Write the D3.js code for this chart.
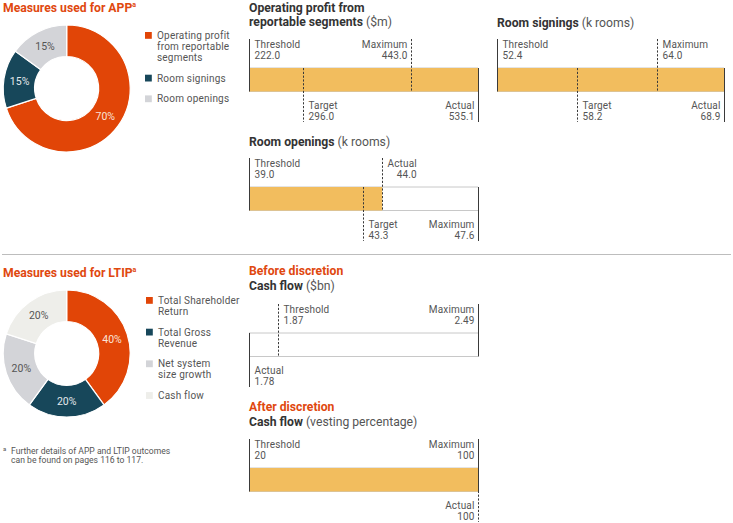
<!DOCTYPE html>
<html><head><meta charset="utf-8">
<script src="https://cdn.jsdelivr.net/npm/d3@7"></script>
<style>body{margin:0;background:#fff} svg{display:block;font-family:Roboto, "Noto Sans", sans-serif}</style>
</head><body><svg id="c" width="733" height="523"></svg>
<script>
// ---------- DATA ----------
const appCategories = ["Operating profit\nfrom reportable\nsegments", "Room signings", "Room openings"];
const appWeights = [70, 15, 15];
const ltipCategories = ["Total Shareholder\nReturn", "Total Gross\nRevenue", "Net system\nsize growth", "Cash flow"];
const ltipWeights = [40, 20, 20, 20];

const opProfitLabels = ["Threshold", "Target", "Maximum", "Actual"];
const opProfitValues = [222.0, 296.0, 443.0, 535.1];
const roomSigningsLabels = ["Threshold", "Target", "Maximum", "Actual"];
const roomSigningsValues = [52.4, 58.2, 64.0, 68.9];
const roomOpeningsLabels = ["Threshold", "Target", "Maximum", "Actual"];
const roomOpeningsValues = [39.0, 43.3, 47.6, 44.0];
const cashBeforeLabels = ["Threshold", "Maximum", "Actual"];
const cashBeforeValues = [1.87, 2.49, 1.78];
const cashAfterLabels = ["Threshold", "Maximum", "Actual"];
const cashAfterValues = [20, 100, 100];

// ---------- STYLE ----------
const ORANGE = "#E14507", TEAL = "#17475A", GREY = "#D3D4D8", LIGHT = "#EEEEEA";
const TITLE_OR = "#E0480F", DARK = "#333", MID = "#555", GOLD = "#F2BD5E", RULE = "#C8C8C8";
const svg = d3.select("#c");

// separator
svg.append("line").attr("x1", 2).attr("x2", 731).attr("y1", 254.5).attr("y2", 254.5)
  .attr("stroke", "#BDBDBD").attr("stroke-width", 1);

function sectionTitle(x, y, txt, sup) {
  const t = svg.append("text").attr("x", x).attr("y", y).attr("fill", TITLE_OR)
    .attr("font-weight", 700).attr("font-size", 12.2).text(txt);
  if (sup) t.append("tspan").attr("font-size", 7).attr("dy", -4.5).text(sup);
}
sectionTitle(3, 11.5, "Measures used for APP", "a");
sectionTitle(3, 276.5, "Measures used for LTIP", "a");

// ---------- DONUTS ----------
function donut(cx, cy, cats, vals, colors, labelColors) {
  const pie = d3.pie().sort(null).value(d => d)(vals);
  const arc = d3.arc().innerRadius(32).outerRadius(63.5);
  const labArc = d3.arc().innerRadius(47.7).outerRadius(47.7);
  const g = svg.append("g").attr("transform", `translate(${cx},${cy})`);
  g.selectAll("path").data(pie).join("path").attr("d", arc)
    .attr("fill", (d, i) => colors[i]).attr("stroke", "#fff").attr("stroke-width", 1.2);
  g.selectAll("text").data(pie).join("text")
    .attr("transform", d => `translate(${labArc.centroid(d)})`)
    .attr("text-anchor", "middle").attr("dy", "0.36em").attr("font-size", 10.5)
    .attr("fill", (d, i) => labelColors[i]).text(d => d.value + "%");
}
function legend(x, y0, cats, colors) {
  let y = y0;
  cats.forEach((c, i) => {
    const lines = c.split("\n");
    svg.append("rect").attr("x", x).attr("y", y - 7).attr("width", 6.8).attr("height", 6.8).attr("fill", colors[i]);
    const t = svg.append("text").attr("x", x + 12).attr("y", y).attr("font-size", 10)
      .attr("letter-spacing", 0.2).attr("fill", MID);
    lines.forEach((l, j) => t.append("tspan").attr("x", x + 12).attr("y", y + j * 11).text(l));
    y += lines.length * 11 + 9.7;
  });
}
donut(66.7, 88.5, appCategories, appWeights, [ORANGE, TEAL, GREY], ["#FBE3D8", "#E4E9EC", MID]);
legend(145, 39, appCategories, [ORANGE, TEAL, GREY]);
donut(66.7, 353.5, ltipCategories, ltipWeights, [ORANGE, TEAL, GREY, LIGHT], ["#FBE3D8", "#E4E9EC", MID, MID]);
legend(146, 304, ltipCategories, [ORANGE, TEAL, GREY, LIGHT]);

// footnote
svg.append("text").attr("x", 3).attr("y", 451).attr("font-size", 6).attr("fill", MID).text("a");
const fn = svg.append("text").attr("font-size", 8.6).attr("fill", MID);
fn.append("tspan").attr("x", 11).attr("y", 454).text("Further details of APP and LTIP outcomes");
fn.append("tspan").attr("x", 11).attr("y", 463).text("can be found on pages 116 to 117.");

// ---------- BULLET BARS ----------
function bulletChart(cfg) {
  const { labels, values, x0, x1, barY, fmt, styles } = cfg;
  const barH = 23.5;
  const x = d3.scaleLinear().domain(d3.extent(values)).range([x0, x1]);
  const g = svg.append("g");
  cfg.titles.forEach((tl, i) => {
    const t = g.append("text").attr("x", x0).attr("y", tl.y).attr("font-size", 12.2);
    tl.parts.forEach(p => t.append("tspan").attr("font-weight", p.b ? 700 : 400)
      .attr("fill", p.c || (p.b ? DARK : MID)).text(p.t));
  });
  [barY, barY + barH].forEach(yy => g.append("line").attr("x1", x0).attr("x2", x1)
    .attr("y1", yy).attr("y2", yy).attr("stroke", RULE).attr("stroke-width", 1));
  const actual = values[labels.indexOf("Actual")];
  g.append("rect").attr("x", x0).attr("y", barY).attr("height", barH)
    .attr("width", x(actual) - x(d3.min(values))).attr("fill", GOLD);
  labels.forEach((lab, i) => {
    const st = styles[lab];
    const xv = Math.round(x(values[i])) + 0.5;
    const above = st.side === "above";
    const yA = above ? barY - 29 : barY;
    const yB = above ? barY + barH : barY + barH + 30.5;
    g.append("line").attr("x1", xv).attr("x2", xv).attr("y1", yA).attr("y2", yB)
      .attr("stroke", "#3A3A3A").attr("stroke-width", 1)
      .attr("stroke-dasharray", st.dash ? "2.2,1.6" : null);
    const ys = above ? [barY - 20, barY - 9] : [barY + barH + 17.5, barY + barH + 28.5];
    const texts = [lab, fmt(values[i])];
    const tg = g.append("g").attr("font-size", 10).attr("letter-spacing", 0.15).attr("fill", MID);
    const nodes = texts.map((s, j) => tg.append("text").attr("y", ys[j]).text(s));
    if (st.align === "start") nodes.forEach(n => n.attr("x", xv + 5).attr("text-anchor", "start"));
    else if (st.align === "end") nodes.forEach(n => n.attr("x", xv - 4).attr("text-anchor", "end"));
    else {
      const w = d3.max(nodes, n => n.node().getComputedTextLength());
      nodes.forEach(n => n.attr("x", xv + 5 + w).attr("text-anchor", "end"));
    }
  });
}

const f1 = d3.format(".1f"), f2 = d3.format(".2f"), f0 = d3.format("d");
bulletChart({
  labels: opProfitLabels, values: opProfitValues, x0: 249, x1: 478, barY: 68, fmt: f1,
  titles: [{ y: 11.5, parts: [{ t: "Operating profit from", b: 1 }] },
           { y: 26, parts: [{ t: "reportable segments", b: 1 }, { t: " ($m)" }] }],
  styles: { Threshold: { side: "above", align: "start" }, Maximum: { side: "above", align: "end", dash: 1 },
            Target: { side: "below", align: "start", dash: 1 }, Actual: { side: "below", align: "end" } }
});
bulletChart({
  labels: roomSigningsLabels, values: roomSigningsValues, x0: 497, x1: 724, barY: 68, fmt: f1,
  titles: [{ y: 26.5, parts: [{ t: "Room signings", b: 1 }, { t: " (k rooms)" }] }],
  styles: { Threshold: { side: "above", align: "start" }, Maximum: { side: "above", align: "start", dash: 1 },
            Target: { side: "below", align: "start", dash: 1 }, Actual: { side: "below", align: "end" } }
});
bulletChart({
  labels: roomOpeningsLabels, values: roomOpeningsValues, x0: 249, x1: 478, barY: 187, fmt: f1,
  titles: [{ y: 146, parts: [{ t: "Room openings", b: 1 }, { t: " (k rooms)" }] }],
  styles: { Threshold: { side: "above", align: "start" }, Actual: { side: "above", align: "block", dash: 1 },
            Target: { side: "below", align: "start", dash: 1 }, Maximum: { side: "below", align: "end" } }
});
bulletChart({
  labels: cashBeforeLabels, values: cashBeforeValues, x0: 249, x1: 478, barY: 333, fmt: f2,
  titles: [{ y: 275, parts: [{ t: "Before discretion", b: 1, c: TITLE_OR }] },
           { y: 290, parts: [{ t: "Cash flow", b: 1 }, { t: " ($bn)" }] }],
  styles: { Threshold: { side: "above", align: "start", dash: 1 }, Maximum: { side: "above", align: "end" },
            Actual: { side: "below", align: "start" } }
});
bulletChart({
  labels: cashAfterLabels, values: cashAfterValues, x0: 249, x1: 478, barY: 468, fmt: f0,
  titles: [{ y: 411, parts: [{ t: "After discretion", b: 1, c: TITLE_OR }] },
           { y: 425.5, parts: [{ t: "Cash flow", b: 1 }, { t: " (vesting percentage)" }] }],
  styles: { Threshold: { side: "above", align: "start" }, Maximum: { side: "above", align: "end" },
            Actual: { side: "below", align: "end", dash: 1 } }
});
</script></body></html>
